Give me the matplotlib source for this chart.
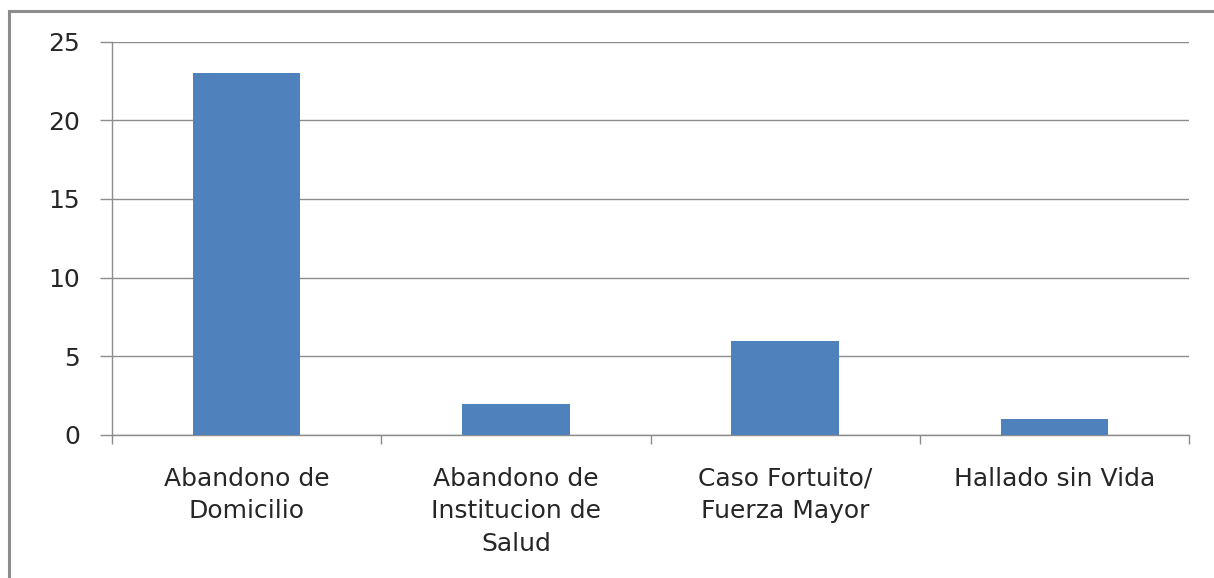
import matplotlib
matplotlib.use("Agg")
import matplotlib.pyplot as plt
from matplotlib.patches import Rectangle

categories = ["Abandono de\nDomicilio", "Abandono de\nInstitucion de\nSalud", "Caso Fortuito/\nFuerza Mayor", "Hallado sin Vida"]
values = [23, 2, 6, 1]
yticks = [0, 5, 10, 15, 20, 25]

plt.rcParams['font.family'] = ['DejaVu Sans']

W, H = 1214, 578
PX = 72 / 100  # points per pixel at dpi 100

fig = plt.figure(figsize=(12.14, 5.78), dpi=100)
ax = fig.add_axes([112 / W, 1 - 435 / H, (1189 - 112) / W, (435 - 41.5) / H])

x = list(range(len(categories)))
ax.bar(x, values, width=0.4, color="#4F81BD", zorder=3)
ax.set_xlim(-0.5, len(categories) - 0.5)
ax.set_ylim(0, 25)
ax.set_yticks(yticks)
ax.set_yticklabels([str(v) for v in yticks], fontsize=18, color="#262626")
ax.yaxis.grid(True, color="#8C8C8C", linewidth=1.0, zorder=0)
ax.set_axisbelow(True)

ax.set_xticks(x)
ax.set_xticklabels(categories, fontsize=18, color="#262626", linespacing=1.44, va="top")
ax.tick_params(axis="x", which="major", length=0, pad=32 * PX)
ax.set_xticks([i + 0.5 for i in range(-1, len(categories))], minor=True)
ax.tick_params(axis="x", which="minor", length=9 * PX, width=1, color="#8C8C8C", direction="out")
ax.tick_params(axis="y", length=12 * PX, width=1, color="#8C8C8C", direction="out", pad=20 * PX)

for s in ["top", "right"]:
    ax.spines[s].set_visible(False)
for s in ["left", "bottom"]:
    ax.spines[s].set_color("#8C8C8C")
    ax.spines[s].set_linewidth(1.0)

fig.patches.append(Rectangle((9 / W, -0.1), 1.2, 1 - 11 / H + 0.1, transform=fig.transFigure,
                             fill=False, edgecolor="#8C8C8C", linewidth=2.2, figure=fig))

fig.savefig("out.png", dpi=100)
